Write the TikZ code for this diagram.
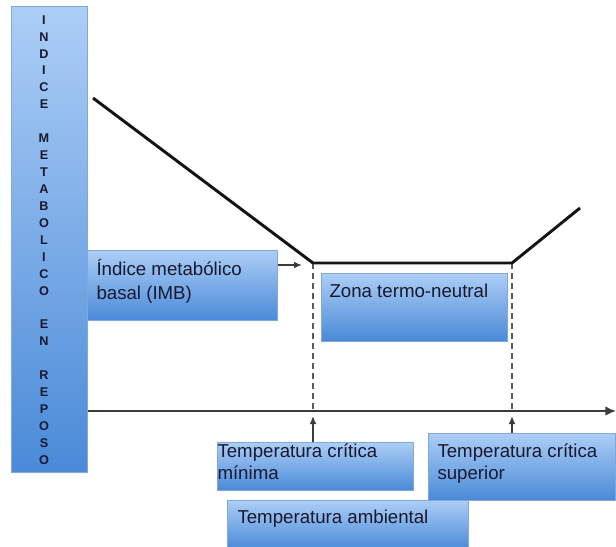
\documentclass[tikz,border=0pt]{standalone}
\usepackage{fontspec}
\setmainfont{Liberation Sans}
\usetikzlibrary{calc,shadows,arrows.meta}

\definecolor{boxTop}{RGB}{172,206,246}
\definecolor{boxBottom}{RGB}{74,138,216}
\definecolor{boxLine}{RGB}{128,168,220}
\definecolor{inkText}{RGB}{24,24,48}
\definecolor{axisGray}{RGB}{60,60,60}

\tikzset{every picture/.style={line width=0.75pt}}
\tikzset{
  blueBox/.style={draw=boxLine, line width=0.4pt, top color=boxTop, bottom color=boxBottom,
    inner sep=0pt, anchor=north west, drop shadow={opacity=0.25,shadow xshift=0.8pt,shadow yshift=-0.8pt}},
  boxText/.style={inner sep=0pt, anchor=base west, align=left, text=inkText,
    font=\fontsize{14}{16.5}\selectfont},
  pointer/.style={draw=axisGray, line width=1.1pt, -{Latex[length=6pt,width=5pt]}},
  guide/.style={draw=axisGray!85, line width=1.6pt, dash pattern=on 4.5pt off 3pt},
}

\begin{document}
\begin{tikzpicture}[x=0.75pt,y=0.75pt,yscale=-1,xscale=1]
\useasboundingbox (0,0) rectangle (616,546);

%Coordinates of the curve and of the axis
\coordinate (top) at (93,98);
\coordinate (kmin) at (313,263);
\coordinate (ksup) at (512,263);
\coordinate (fin) at (580,208);
\coordinate (axisL) at (87,411);
\coordinate (axisR) at (616,411);
\coordinate (imbTip) at (302,265);

%Straight Lines: temperature axis
\draw[pointer, -{Latex[length=8pt,width=7pt]}] (axisL) -- (axisR);

%Dashed lines
\draw[guide] (kmin) -- (kmin |- axisL);
\draw[guide] (ksup) -- (ksup |- axisL);

%Shape: metabolic curve
\draw[line width=2.2pt, color=black!92, line join=round] (top) -- (kmin) -- (ksup) -- (fin);

%Shape: vertical bar
\node[blueBox, minimum width=57pt, minimum height=349.5pt] (bar) at (11,6) {};
\node[inner sep=0pt, align=center, text=inkText, font=\fontsize{9.5}{12.7}\selectfont\bfseries] (barText) at (44,240)
  {I\\N\\D\\I\\C\\E\\[12.7pt]M\\E\\T\\A\\B\\O\\L\\I\\C\\O\\[12.7pt]E\\N\\[12.7pt]R\\E\\P\\O\\S\\O};

%Shape: boxes
\node[blueBox, minimum width=142.5pt, minimum height=52.5pt] (imbBox) at (87,250) {};
\node[boxText, font=\fontsize{14}{18}\selectfont] (imbText) at (96,299) {Índice metabólico\\basal (IMB)};

\node[blueBox, minimum width=139.5pt, minimum height=51pt] (zonaBox) at (321,273) {};
\node[boxText] (zonaText) at (329,297) {Zona termo-neutral};

\node[blueBox, minimum width=147pt, minimum height=36pt] (minBox) at (217,442) {};
\node[boxText] (minText) at (217,479) {Temperatura crítica\\mínima};

\node[blueBox, minimum width=140.25pt, minimum height=50.25pt] (supBox) at (428,433) {};
\node[boxText] (supText) at (437,479) {Temperatura crítica\\superior};

\node[blueBox, minimum width=180.75pt, minimum height=37pt] (ambBox) at (227,500) {};
\node[boxText] (ambText) at (237,523) {Temperatura ambiental};

%Arrows
\draw[pointer] ($(imbBox.north east)+(0,15)$) -- (imbTip);
\draw[pointer] (minBox.north -| kmin) -- ($(kmin |- axisL)+(0,5)$);
\draw[pointer] (supBox.north -| ksup) -- ($(ksup |- axisL)+(0,5)$);

\end{tikzpicture}
\end{document}
